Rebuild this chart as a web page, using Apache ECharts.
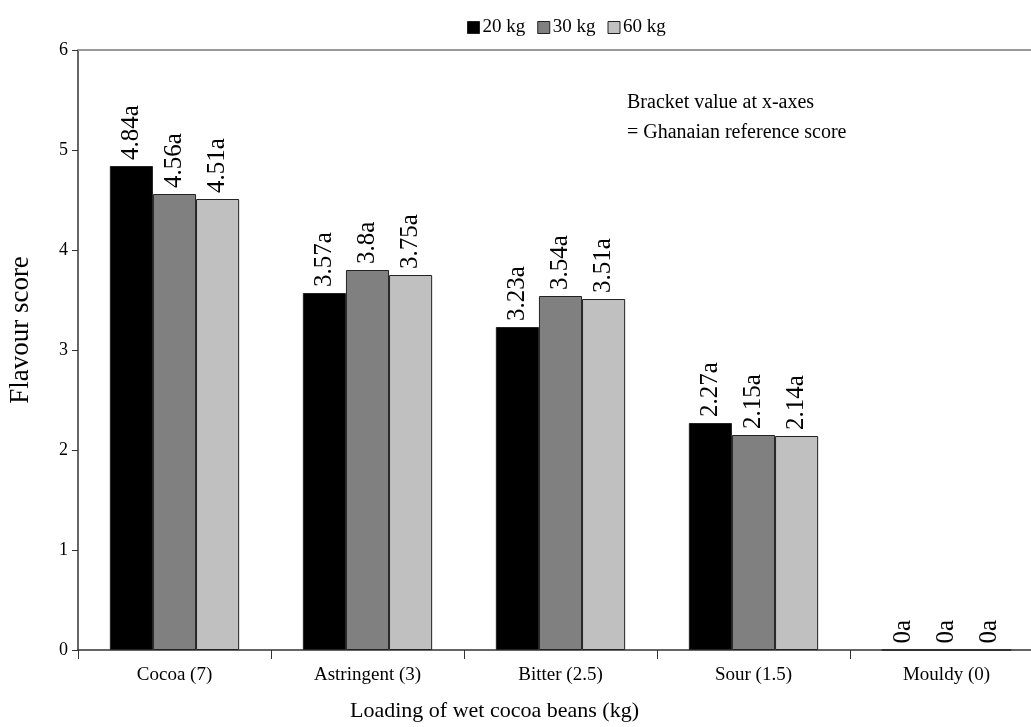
<!DOCTYPE html>
<html>
<head>
<meta charset="utf-8">
<script src="https://cdn.jsdelivr.net/npm/echarts@6/dist/echarts.min.js"></script>
<style>
html,body{margin:0;padding:0;background:#fff;}
#chart{width:1031px;height:727px;}
</style>
</head>
<body>
<div id="chart"></div>
<script>
var categories = ['Cocoa (7)', 'Astringent (3)', 'Bitter (2.5)', 'Sour (1.5)', 'Mouldy (0)'];
var seriesNames = ['20 kg', '30 kg', '60 kg'];
var values20 = [4.84, 3.57, 3.23, 2.27, 0];
var values30 = [4.56, 3.8, 3.54, 2.15, 0];
var values60 = [4.51, 3.75, 3.51, 2.14, 0];
var yTicks = [0, 1, 2, 3, 4, 5, 6];
var colors = ['#000000', '#808080', '#c0c0c0'];

var font = 'Liberation Serif, Times New Roman, serif';
var chart = echarts.init(document.getElementById('chart'));

function mk(name, data, color) {
  return {
    name: name,
    type: 'bar',
    data: data,
    barGap: '0%',
    barCategoryGap: '33%',
    itemStyle: {color: color, borderColor: '#222', borderWidth: 1},
    label: {
      show: true,
      position: 'top',
      rotate: 90,
      align: 'left',
      verticalAlign: 'middle',
      distance: 6,
      fontFamily: font,
      fontSize: 25,
      color: '#000',
      formatter: function (p) { return p.value + 'a'; }
    }
  };
}

chart.setOption({
  animation: false,
  backgroundColor: '#fff',
  textStyle: {fontFamily: font},
  legend: {
    top: 13,
    left: 462,
    itemWidth: 12,
    itemHeight: 12,
    itemGap: 12,
    icon: 'rect',
    textStyle: {fontFamily: font, fontSize: 19, color: '#000', padding: [0, 0, 0, -2]},
    data: seriesNames.map(function (n, i) {
      return {name: n, itemStyle: {borderColor: '#222', borderWidth: 1}};
    })
  },
  grid: {left: 78, top: 50, bottom: 77, width: 965, containLabel: false, outerBoundsMode: 'none'},
  xAxis: [{
    type: 'category',
    data: categories,
    axisLine: {lineStyle: {color: '#333', width: 1.5}},
    axisTick: {show: true, alignWithLabel: false, length: 9, lineStyle: {color: '#333'}},
    axisLabel: {fontFamily: font, fontSize: 19, color: '#000', margin: 16},
    name: 'Loading of wet cocoa beans (kg)',
    nameLocation: 'middle',
    nameGap: 50,
    nameTextStyle: {fontFamily: font, fontSize: 22, color: '#000', padding: [0, 0, 0, -132]}
  }, {
    type: 'category',
    position: 'top',
    data: categories,
    axisLine: {show: true, lineStyle: {color: '#999', width: 2}},
    axisTick: {show: false},
    axisLabel: {show: false}
  }],
  yAxis: {
    type: 'value',
    min: 0,
    max: 6,
    interval: 1,
    axisLine: {show: true, lineStyle: {color: '#333', width: 1.5}},
    axisTick: {show: true, length: 6, lineStyle: {color: '#333'}},
    splitLine: {show: false},
    axisLabel: {
      fontFamily: font, fontSize: 18, color: '#000', margin: 10,
      formatter: function (v) { return yTicks.indexOf(v) >= 0 ? String(v) : ''; }
    },
    name: 'Flavour score',
    nameLocation: 'middle',
    nameGap: 44,
    nameTextStyle: {fontFamily: font, fontSize: 27, color: '#000', padding: [0, 0, 0, 40]}
  },
  graphic: [{
    type: 'text',
    left: 627,
    top: 88,
    style: {
      text: 'Bracket value at x-axes\n= Ghanaian reference score',
      fontFamily: font,
      fontSize: 20,
      lineHeight: 30,
      fill: '#000'
    }
  }],
  series: [
    mk(seriesNames[0], values20, colors[0]),
    mk(seriesNames[1], values30, colors[1]),
    mk(seriesNames[2], values60, colors[2])
  ]
});
</script>
</body>
</html>
